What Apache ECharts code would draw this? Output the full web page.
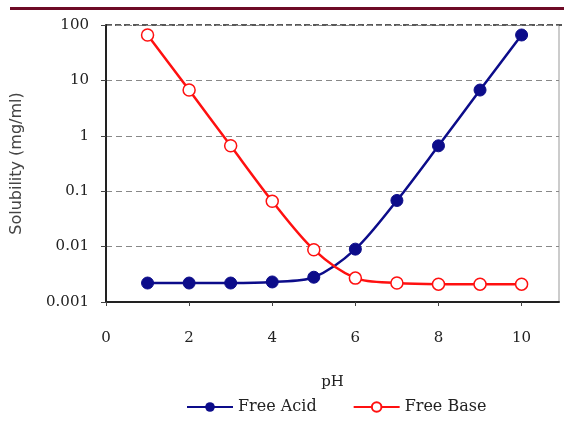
<!DOCTYPE html>
<html><head><meta charset="utf-8">
<script src="https://cdn.jsdelivr.net/npm/echarts@6/dist/echarts.min.js"></script>
<style>html,body{margin:0;padding:0;background:#fff}#c{width:564px;height:425px}</style>
</head><body><div id="c"></div>
<script>
var pH = [1, 2, 3, 4, 5, 6, 7, 8, 9, 10];
var freeAcid = [0.0022, 0.0022, 0.0022, 0.0023, 0.0028, 0.009, 0.068, 0.66, 6.7, 66];
var freeBase = [66, 6.7, 0.66, 0.066, 0.0088, 0.0027, 0.0022, 0.0021, 0.0021, 0.0021];
var yTickLabels = {'-3':'0.001','-2':'0.01','-1':'0.1','0':'1','1':'10','2':'100'};

function pairs(xs, ys){ return xs.map(function(x,i){return [x, ys[i]];}); }
function fmtY(v){
  var k = String(Math.round(Math.log10(v)));
  return yTickLabels[k] !== undefined ? yTickLabels[k] : '';
}

var chart = echarts.init(document.getElementById('c'), null, {renderer:'canvas'});
var serif = '"DejaVu Serif", "Liberation Serif", serif';
chart.setOption({
  animation: false,
  backgroundColor: '#fff',
  graphic: [
    {type:'rect', shape:{x:10, y:7, width:554, height:3}, style:{fill:'#6e0a26'}},
    {type:'line', shape:{x1:559, y1:25, x2:559, y2:302}, style:{stroke:'#999', lineWidth:1}},
    {type:'line', shape:{x1:106, y1:25, x2:564, y2:25}, style:{stroke:'#222', lineWidth:1.5, lineDash:[6,3]}}
  ],
  grid: {left:106, top:25, right:5, bottom:123, containLabel:false},
  xAxis: {
    type:'value', min:0, max:10.9, interval:2,
    name:'pH', nameLocation:'middle', nameGap:73,
    nameTextStyle:{fontFamily:serif, fontSize:15, color:'#222'},
    axisLine:{show:true, onZero:false, lineStyle:{color:'#222', width:2}},
    axisTick:{show:true, length:4, lineStyle:{color:'#444'}},
    axisLabel:{margin:29, fontFamily:serif, fontSize:15, color:'#222', showMaxLabel:false},
    splitLine:{show:false}
  },
  yAxis: {
    type:'log', logBase:10, min:0.001, max:100,
    name:'Solubility (mg/ml)', nameLocation:'middle', nameGap:81, nameRotate:90,
    nameTextStyle:{fontFamily:'"DejaVu Sans", "Liberation Sans", sans-serif', fontSize:16, color:'#444'},
    axisLine:{show:true, lineStyle:{color:'#222', width:2}},
    axisTick:{show:true, length:5, lineStyle:{color:'#444'}},
    axisLabel:{margin:17, fontFamily:serif, fontSize:15, color:'#222', formatter:fmtY},
    splitLine:{show:true, lineStyle:{color:'#888', type:[6,4], width:1.2}}
  },
  legend: {
    top: 399, left: 186, padding: 0, itemGap: 36, itemWidth: 46, itemHeight: 12,
    textStyle:{fontFamily:serif, fontSize:16, color:'#222', padding:[13,0,0,0]},
    data:['Free Acid','Free Base']
  },
  series: [
    {name:'Free Acid', type:'line', data:pairs(pH, freeAcid), smooth:0.3,
     symbol:'circle', symbolSize:12,
     lineStyle:{color:'#0c0c8a', width:2.5},
     itemStyle:{color:'#0c0c8a', borderColor:'#0c0c8a'}},
    {name:'Free Base', type:'line', data:pairs(pH, freeBase), smooth:0.3,
     symbol:'circle', symbolSize:12,
     lineStyle:{color:'#ff1010', width:2.5},
     itemStyle:{color:'#ffffff', borderColor:'#ff1010', borderWidth:1.5}}
  ]
});
</script>
</body></html>
